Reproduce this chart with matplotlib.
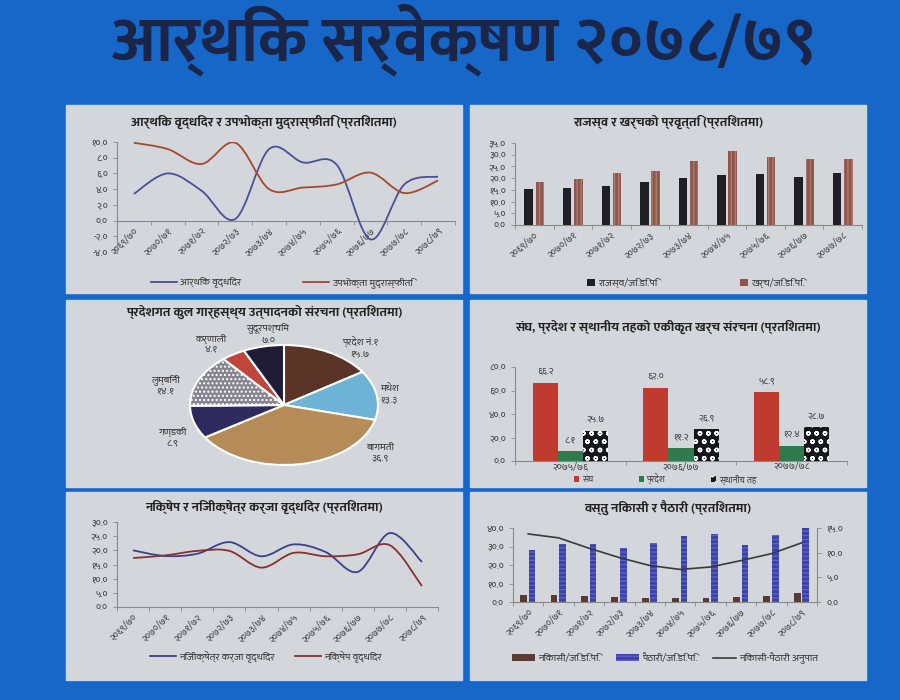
import numpy as np
import matplotlib
matplotlib.use("Agg")
import matplotlib.pyplot as plt
from matplotlib import font_manager
from matplotlib.ft2font import FT2Font
from matplotlib.path import Path
from matplotlib.patches import PathPatch, Rectangle, Patch
from matplotlib.lines import Line2D
from matplotlib.ticker import FuncFormatter, MultipleLocator

# ---------------- data ----------------
main_title = "आर्थिक सर्वेक्षण २०७८/७९"

years10 = ["२०६९/७०", "२०७०/७१", "२०७१/७२", "२०७२/७३", "२०७३/७४",
           "२०७४/७५", "२०७५/७६", "२०७६/७७", "२०७७/७८", "२०७८/७९"]
years9 = years10[:9]

# chart 1
growth = [3.4, 6.0, 3.8, 0.2, 9.1, 7.4, 7.1, -2.4, 4.6, 5.6]
inflation = [9.9, 9.1, 7.2, 9.9, 4.0, 4.2, 4.6, 6.1, 3.5, 5.1]

# chart 2
revenue = [15.2, 15.9, 16.8, 18.5, 19.9, 21.2, 21.7, 20.3, 22.0]
expenditure = [18.2, 19.5, 22.0, 23.0, 27.2, 31.5, 28.9, 28.1, 28.1]

# chart 3
pie_labels = ["प्रदेश नं.१", "मधेश", "बागमती", "गण्डकी", "लुम्बिनी", "कर्णाली", "सुदूरपश्चिम"]
pie_values = [15.7, 13.3, 36.9, 8.9, 14.1, 4.1, 7.0]

# chart 4
gov_years = ["२०७५/७६", "२०७६/७७", "२०७७/७८"]
federal = [66.2, 62.0, 58.9]
province = [8.1, 11.2, 12.4]
local = [25.7, 26.9, 28.7]

# chart 5
credit = [20.0, 18.0, 18.8, 22.9, 17.9, 22.1, 19.4, 12.4, 26.1, 15.9]
deposit = [17.3, 18.2, 19.8, 19.8, 13.9, 19.1, 17.9, 18.6, 21.8, 7.4]

# chart 6
exports = [3.6, 4.0, 3.2, 2.5, 2.2, 2.2, 2.3, 2.5, 3.2, 4.9]
imports = [28.1, 31.5, 31.5, 29.2, 31.9, 35.9, 36.6, 30.8, 36.0, 39.8]
ratio = [13.8, 13.0, 10.9, 9.0, 7.4, 6.6, 7.1, 8.4, 9.8, 12.0]

# ---------------- fonts ----------------
def find_deva():
    weights = {}
    for f in font_manager.fontManager.ttflist:
        try:
            if 0x0915 in FT2Font(f.fname).get_charmap():
                w = f.weight if isinstance(f.weight, int) else 400
                weights.setdefault(f.name, set()).add(w)
        except Exception:
            continue
    prefs = ["Noto Sans Devanagari", "Mukta", "Hind", "Ek Mukta", "Poppins",
             "Biryani", "Amiko", "Arya", "FreeSans", "Annapurna SIL"]
    for pref in prefs:
        if pref in weights and max(weights[pref]) >= 700 and min(weights[pref]) <= 400:
            return pref
    for pref in prefs:
        if pref in weights:
            return pref
    return sorted(weights)[0] if weights else None

deva = find_deva()
fams = ([deva] if deva else []) + ["DejaVu Sans"]
plt.rcParams["font.family"] = fams

DIG = str.maketrans("0123456789", "०१२३४५६७८९")
def dv(v):
    return f"{v:.1f}".translate(DIG)
fmt = FuncFormatter(lambda v, p: dv(v))

# ---------------- style ----------------
W, H = 900, 700
BG = "#1767c9"
PANEL = "#d3d7db"
AXC = "#8a8a8a"
TXT = "#3a3a3a"

fig = plt.figure(figsize=(9, 7), dpi=100)
fig.patch.set_facecolor(BG)

def panel(x0, y0, x1, y1):
    fig.patches.append(Rectangle((x0 / W, 1 - y1 / H), (x1 - x0) / W, (y1 - y0) / H,
                                 transform=fig.transFigure, facecolor=PANEL,
                                 edgecolor="#c9d6e8", linewidth=1.0, zorder=-5))

def add_ax(x0, y0, x1, y1):
    ax = fig.add_axes([x0 / W, 1 - y1 / H, (x1 - x0) / W, (y1 - y0) / H])
    ax.set_facecolor("none")
    for s in ["top", "right"]:
        ax.spines[s].set_visible(False)
    for s in ["left", "bottom"]:
        ax.spines[s].set_color(AXC)
        ax.spines[s].set_linewidth(0.8)
    ax.tick_params(colors=TXT, labelsize=7, length=3, width=0.6, color=AXC)
    return ax

def cat_axis(ax, labels, rot=45, fs=7):
    n = len(labels)
    ax.set_xlim(-0.5, n - 0.5)
    ax.set_xticks(range(n))
    if rot:
        ax.set_xticklabels(labels, rotation=rot, ha="right", rotation_mode="anchor", fontsize=fs)
    else:
        ax.set_xticklabels(labels, fontsize=fs)
    ax.tick_params(axis="x", which="major", length=0, pad=4)
    ax.set_xticks(np.arange(-0.5, n), minor=True)
    ax.tick_params(axis="x", which="minor", length=3, color=AXC, width=0.6)

def smooth_path(xs, ys):
    pts = np.column_stack([xs, ys]).astype(float)
    n = len(pts)
    verts = [pts[0]]
    codes = [Path.MOVETO]
    for i in range(n - 1):
        p0 = pts[max(i - 1, 0)]
        p1 = pts[i]
        p2 = pts[i + 1]
        p3 = pts[min(i + 2, n - 1)]
        verts += [p1 + (p2 - p0) / 6, p2 - (p3 - p1) / 6, p2]
        codes += [Path.CURVE4] * 3
    return Path(verts, codes)

def smooth_line(ax, ys, color, lw=1.3):
    ax.add_patch(PathPatch(smooth_path(np.arange(len(ys)), ys), fill=False,
                           edgecolor=color, linewidth=lw, zorder=3))

def ptitle(x, y, s):
    fig.text(x / W, 1 - y / H, s, ha="center", va="center", fontsize=9.5,
             fontweight="bold", color="#222222")

def flegend(handles, labels, x, y, **kw):
    opts = dict(loc="center", bbox_to_anchor=(x / W, 1 - y / H), frameon=False,
                fontsize=7.5, ncol=len(handles), labelcolor=TXT, handletextpad=0.3)
    opts.update(kw)
    fig.legend(handles, labels, **opts)

# ---------------- main title ----------------
fig.text(464 / W, 1 - 40 / H, main_title, ha="center", va="center", fontsize=46,
         fontweight="bold", color="#1b2547")

# ---------------- panels ----------------
panel(66, 105, 462, 293)
panel(470, 105, 866, 293)
panel(66, 300, 462, 487)
panel(470, 300, 866, 487)
panel(66, 492, 462, 680)
panel(470, 492, 866, 680)

# ---- chart 1 ----
c_growth, c_infl = "#4b4f98", "#a5482c"
ax1 = add_ax(117, 142, 455, 252)
ax1.set_ylim(-4, 10)
ax1.yaxis.set_major_locator(MultipleLocator(2))
ax1.yaxis.set_major_formatter(fmt)
ax1.spines["bottom"].set_position(("data", 0))
cat_axis(ax1, years10)
smooth_line(ax1, growth, c_growth)
smooth_line(ax1, inflation, c_infl)
ptitle(264, 122, "आर्थिक वृद्धिदर र उपभोक्ता मुद्रास्फीति (प्रतिशतमा)")
flegend([Line2D([], [], color=c_growth, lw=1.3), Line2D([], [], color=c_infl, lw=1.3)],
        ["आर्थिक वृद्धिदर", "उपभोक्ता मुद्रास्फीति"], 282, 283,
        columnspacing=6, handlelength=2.5)

# ---- chart 2 ----
c_rev, c_exp = "#1f1f26", "#8e564c"
ax2 = add_ax(515, 143, 862, 225)
ax2.set_ylim(0, 35)
ax2.yaxis.set_major_locator(MultipleLocator(5))
ax2.yaxis.set_major_formatter(fmt)
cat_axis(ax2, years9, rot=40)
x9 = np.arange(len(years9))
ax2.bar(x9 - 0.145, revenue, width=0.22, color=c_rev, zorder=3)
ax2.bar(x9 + 0.145, expenditure, width=0.22, color=c_exp, zorder=3,
        hatch="||||", edgecolor="#b07a6c", linewidth=0)
ptitle(668, 122, "राजस्व र खर्चको प्रवृत्ति (प्रतिशतमा)")
flegend([Patch(facecolor=c_rev), Patch(facecolor=c_exp)],
        ["राजस्व/जि.डि.पि", "खर्च/जि.डि.पि."], 696, 283,
        columnspacing=8, handlelength=0.7, handleheight=0.7)

# ---- chart 3 ----
pie_colors = ["#5b3428", "#6db3d6", "#b58b57", "#2f2a5e", "#86858f", "#c0453a", "#1f1d36"]
ax3 = fig.add_axes([190 / W, 1 - 465 / H, 188 / W, 120 / H])
wedges, _ = ax3.pie(pie_values, colors=pie_colors, startangle=90, counterclock=False,
                    radius=1.0, wedgeprops=dict(edgecolor="white", linewidth=1.5))
wedges[4].set_hatch("....")
ax3.set_aspect("auto")
ax3.set_xlim(-1.0, 1.0)
ax3.set_ylim(-1.0, 1.0)
label_pos = [(0.81, 0.95), (1.12, 0.17), (1.02, -0.80), (-1.19, -0.53),
             (-1.26, 0.33), (-0.78, 1.02), (-0.17, 1.18)]
for (lx, ly), name, val in zip(label_pos, pie_labels, pie_values):
    ax3.text(lx, ly, f"{name}\n{dv(val)}", ha="center", va="center", fontsize=7.5,
             color=TXT, linespacing=1.2, clip_on=False)
ptitle(264, 312, "प्रदेशगत कुल गार्हस्थ्य उत्पादनको संरचना (प्रतिशतमा)")

# ---- chart 4 ----
c_fed, c_prov = "#c13a2f", "#2f7b4c"
ax4 = add_ax(515, 367, 847, 461)
ax4.set_ylim(0, 80)
ax4.yaxis.set_major_locator(MultipleLocator(20))
ax4.yaxis.set_major_formatter(fmt)
cat_axis(ax4, gov_years, rot=0, fs=7)
ax4.tick_params(axis="x", which="major", pad=1)
x3 = np.arange(len(gov_years))
bw = 0.226
b1 = ax4.bar(x3 - bw, federal, width=bw, color=c_fed, zorder=3)
b2 = ax4.bar(x3, province, width=bw, color=c_prov, zorder=3)
b3 = ax4.bar(x3 + bw, local, width=bw, color="#15151c", zorder=3,
             hatch="oo", edgecolor="white", linewidth=0)
for bars in (b1, b2, b3):
    ax4.bar_label(bars, labels=[dv(b.get_height()) for b in bars], padding=5,
                  fontsize=7, color=TXT)
ptitle(668, 327, "संघ, प्रदेश र स्थानीय तहको एकीकृत खर्च संरचना (प्रतिशतमा)")
flegend([Patch(facecolor=c_fed), Patch(facecolor=c_prov),
         Patch(facecolor="#15151c", hatch="oo", edgecolor="white", linewidth=0)],
        ["संघ", "प्रदेश", "स्थानीय तह"], 665, 479,
        columnspacing=5, handlelength=0.6, handleheight=0.6, fontsize=6.5)

# ---- chart 5 ----
c_cred, c_dep = "#3c3f8c", "#8b2f2c"
ax5 = add_ax(117, 522, 438, 607)
ax5.set_ylim(0, 30)
ax5.yaxis.set_major_locator(MultipleLocator(5))
ax5.yaxis.set_major_formatter(fmt)
cat_axis(ax5, years10)
smooth_line(ax5, credit, c_cred)
smooth_line(ax5, deposit, c_dep)
ptitle(264, 507, "निक्षेप र निजीक्षेत्र कर्जा वृद्धिदर (प्रतिशतमा)")
flegend([Line2D([], [], color=c_cred, lw=1.3), Line2D([], [], color=c_dep, lw=1.3)],
        ["निजीक्षेत्र कर्जा वृद्धिदर", "निक्षेप वृद्धिदर"], 266, 657,
        columnspacing=2, handlelength=2.5)

# ---- chart 6 ----
c_ex, c_im, c_ra = "#5a3a32", "#3a42a6", "#3a3a3a"
ax6 = add_ax(513, 528, 817, 602)
ax6.set_ylim(0, 40)
ax6.yaxis.set_major_locator(MultipleLocator(10))
ax6.yaxis.set_major_formatter(fmt)
cat_axis(ax6, years10)
x10 = np.arange(len(years10))
ax6.bar(x10 - 0.15, exports, width=0.22, color=c_ex, zorder=3)
ax6.bar(x10 + 0.13, imports, width=0.22, color=c_im, zorder=3,
        hatch="----", edgecolor="#5a62c8", linewidth=0)
ax6r = ax6.twinx()
ax6r.set_facecolor("none")
for s in ["top", "left", "bottom"]:
    ax6r.spines[s].set_visible(False)
ax6r.spines["right"].set_color(AXC)
ax6r.spines["right"].set_linewidth(0.8)
ax6r.set_ylim(0, 15)
ax6r.yaxis.set_major_locator(MultipleLocator(5))
ax6r.yaxis.set_major_formatter(fmt)
ax6r.tick_params(colors=TXT, labelsize=7, length=3, width=0.6, color=AXC)
ax6r.plot(x10, ratio, color=c_ra, lw=1.2, zorder=4)
ptitle(668, 507, "वस्तु निकासी र पैठारी (प्रतिशतमा)")
flegend([Patch(facecolor=c_ex), Patch(facecolor=c_im, hatch="----", edgecolor="#5a62c8", linewidth=0),
         Line2D([], [], color=c_ra, lw=1.2)],
        ["निकासी/जि.डि.पि.", "पैठारी/जि.डि.पि.", "निकासी-पैठारी अनुपात"], 665, 658,
        columnspacing=1.5, handlelength=2.2, handleheight=0.6)

fig.savefig("out.png", dpi=100, facecolor=BG)
